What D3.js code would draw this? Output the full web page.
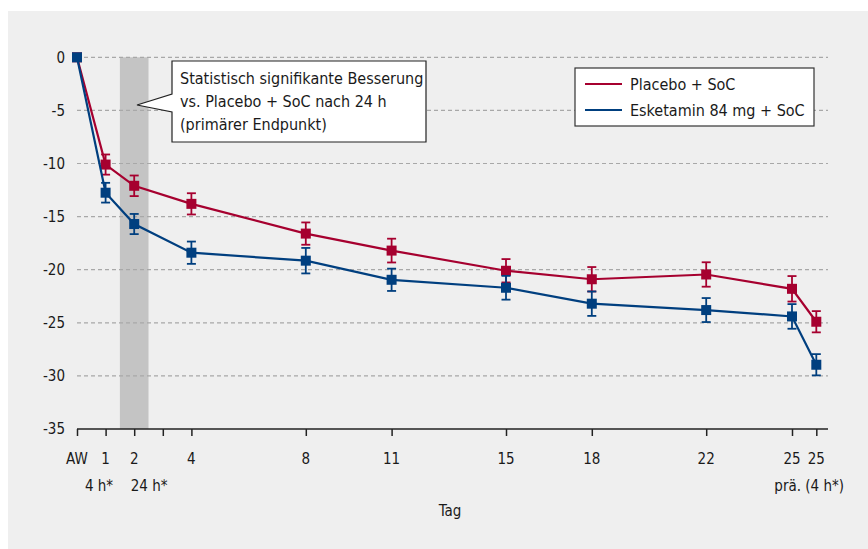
<!DOCTYPE html>
<html>
<head>
<meta charset="utf-8">
<script src="https://cdn.jsdelivr.net/npm/d3@7"></script>
<style>
  body { margin: 0; background: #fff; }
  svg text { font-family: "DejaVu Sans", sans-serif; font-stretch: condensed; fill: #1a1a1a; }
</style>
</head>
<body>
<svg id="chart" width="868" height="549"></svg>
<script>
// ---DATA---//
// x position of each visit in days (AW = 0, last one = day 25 + 4 h after dose)
var visitDays = [0, 1, 2, 4, 8, 11, 15, 18, 22, 25, 25.85];
var tickDays = [0, 1, 2, 3, 4, 8, 11, 15, 18, 22, 25, 25.85];
var tickLabels = ["AW", "1", "2", "", "4", "8", "11", "15", "18", "22", "25", "25"];
var subLabels = ["4 h*", "24 h*", "prä. (4 h*)"];
var subLabelDays = [0.77, 2.52, 25.6];
var yTicks = [0, -5, -10, -15, -20, -25, -30, -35];

var placeboMean = [0, -10.1, -12.1, -13.8, -16.6, -18.2, -20.1, -20.9, -20.45, -21.8, -24.9];
var placeboErr = [0, 0.95, 0.97, 1.0, 1.05, 1.12, 1.1, 1.15, 1.15, 1.2, 1.0];
var esketaminMean = [0, -12.75, -15.7, -18.4, -19.15, -20.95, -21.7, -23.2, -23.8, -24.4, -28.95];
var esketaminErr = [0, 0.93, 0.95, 1.05, 1.2, 1.05, 1.12, 1.15, 1.13, 1.16, 1.0];

var seriesNames = ["Placebo + SoC", "Esketamin 84 mg + SoC"];
var seriesColors = ["#a6002f", "#003f7f"];
var calloutLines = ["Statistisch signifikante Besserung", "vs. Placebo + SoC nach 24 h", "(primärer Endpunkt)"];

// ---SETUP---//
var svg = d3.select("#chart");

svg.append("rect").attr("x", 8).attr("y", 11).attr("width", 860).attr("height", 538)
	.attr("fill", "#efefef");

var x = d3.scaleLinear().domain([0, 25]).range([77, 792]);
var y = d3.scaleLinear().domain([0, -35]).range([57.3, 429]);

var g = svg.append("g");

// shaded 24 h band
g.append("rect")
	.attr("x", x(1.5)).attr("width", x(2.5) - x(1.5))
	.attr("y", y(0)).attr("height", y(-35) - y(0))
	.attr("fill", "#c4c4c4");

// gridlines
g.selectAll(".grid").data(yTicks.slice(0, -1)).enter().append("line")
	.attr("class", "grid")
	.attr("x1", x(0)).attr("x2", 828)
	.attr("y1", function(d) { return y(d); }).attr("y2", function(d) { return y(d); })
	.attr("stroke", "#a8a8a8").attr("stroke-width", 1.2).attr("stroke-dasharray", "4,3");

// y labels
g.selectAll(".ylab").data(yTicks).enter().append("text")
	.attr("x", 65).attr("y", function(d) { return y(d); })
	.attr("dy", "0.35em").attr("text-anchor", "end")
	.style("font-size", "15px")
	.text(function(d) { return d; });

// x axis
var xAxis = d3.axisBottom(x).tickValues(tickDays).tickSize(7).tickFormat("");
var axG = g.append("g").attr("transform", "translate(0," + y(-35) + ")").call(xAxis);
axG.select(".domain").attr("d", "M" + x(0) + ",0H828").attr("stroke", "#222").attr("stroke-width", 1.5);
axG.selectAll(".tick line").attr("stroke", "#222").attr("stroke-width", 1.5);

g.selectAll(".xlab").data(tickDays).enter().append("text")
	.attr("x", function(d) { return x(d); }).attr("y", 464)
	.attr("text-anchor", "middle").style("font-size", "15px")
	.text(function(d, i) { return tickLabels[i]; });

g.selectAll(".xsub").data(subLabelDays).enter().append("text")
	.attr("x", function(d) { return x(d); }).attr("y", 491)
	.attr("text-anchor", "middle").style("font-size", "15px")
	.text(function(d, i) { return subLabels[i]; });

g.append("text").attr("x", 450).attr("y", 516).attr("text-anchor", "middle")
	.style("font-size", "15px").text("Tag");

// ---SERIES---//
function drawSeries(means, errs, color) {
	var pts = visitDays.map(function(d, i) { return { x: d, m: means[i], e: errs[i] }; });
	var line = d3.line().x(function(d) { return x(d.x); }).y(function(d) { return y(d.m); });
	var s = g.append("g");
	s.append("path").datum(pts).attr("d", line)
		.attr("fill", "none").attr("stroke", color).attr("stroke-width", 2.2);
	var eb = s.selectAll(".eb").data(pts.filter(function(d) { return d.e > 0; })).enter().append("g");
	eb.append("line")
		.attr("x1", function(d) { return x(d.x); }).attr("x2", function(d) { return x(d.x); })
		.attr("y1", function(d) { return y(d.m + d.e); }).attr("y2", function(d) { return y(d.m - d.e); })
		.attr("stroke", color).attr("stroke-width", 1.8);
	[1, -1].forEach(function(sign) {
		eb.append("line")
			.attr("x1", function(d) { return x(d.x) - 4.5; }).attr("x2", function(d) { return x(d.x) + 4.5; })
			.attr("y1", function(d) { return y(d.m + sign * d.e); }).attr("y2", function(d) { return y(d.m + sign * d.e); })
			.attr("stroke", color).attr("stroke-width", 1.8);
	});
	s.selectAll(".pt").data(pts).enter().append("rect")
		.attr("x", function(d) { return x(d.x) - 5; }).attr("y", function(d) { return y(d.m) - 5; })
		.attr("width", 10).attr("height", 10).attr("fill", color);
}

drawSeries(placeboMean, placeboErr, seriesColors[0]);
drawSeries(esketaminMean, esketaminErr, seriesColors[1]);

// ---CALLOUT---//
var bx = 172, by = 61, bw = 254, bh = 81;
g.append("path")
	.attr("d", "M" + bx + "," + by + "H" + (bx + bw) + "V" + (by + bh) + "H" + bx +
		"V112L137,105L" + bx + ",94Z")
	.attr("fill", "#fff").attr("stroke", "#222").attr("stroke-width", 1.2);
g.selectAll(".call").data(calloutLines).enter().append("text")
	.attr("x", 180).attr("y", function(d, i) { return 84 + i * 23; })
	.style("font-size", "16px").text(function(d) { return d; });

// ---LEGEND---//
var lg = g.append("g");
lg.append("rect").attr("x", 575).attr("y", 68).attr("width", 239).attr("height", 58)
	.attr("fill", "#fff").attr("stroke", "#333").attr("stroke-width", 1.2);
seriesNames.forEach(function(name, i) {
	var ly = 84 + i * 26;
	lg.append("line").attr("x1", 585).attr("x2", 622).attr("y1", ly).attr("y2", ly)
		.attr("stroke", seriesColors[i]).attr("stroke-width", 2);
	lg.append("text").attr("x", 630).attr("y", ly).attr("dy", "0.35em")
		.style("font-size", "16px").text(name);
});
</script>
</body>
</html>
